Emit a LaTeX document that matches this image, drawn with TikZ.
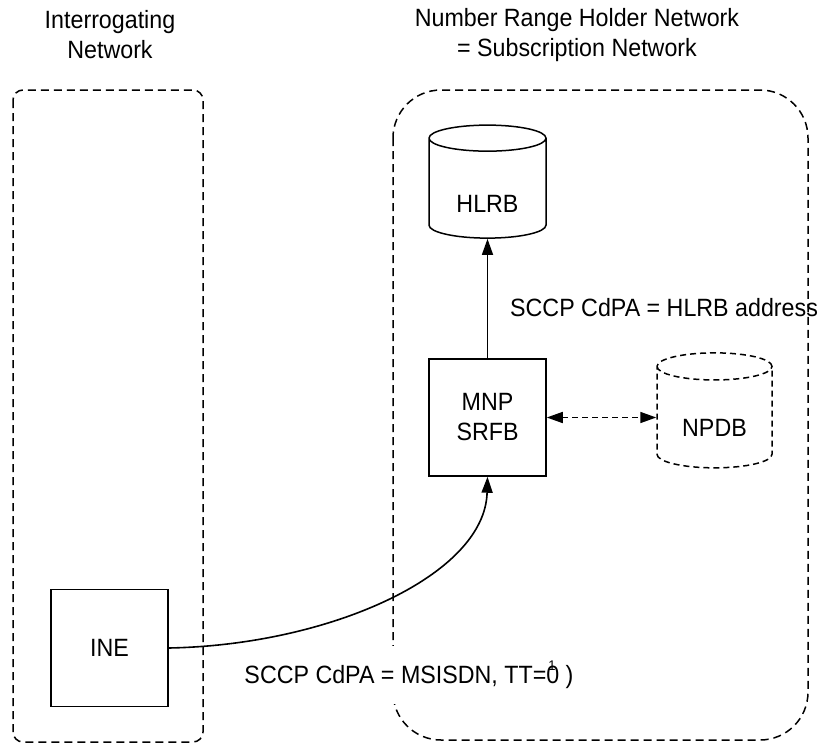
\documentclass[tikz,border=0pt]{standalone}
\usepackage{fontspec}
\setmainfont[FakeStretch=0.93]{Liberation Sans}
\usetikzlibrary{arrows.meta,shapes.geometric}
\begin{document}
\begin{tikzpicture}[x=1pt,y=-1pt,
  every node/.style={font=\fontsize{25}{30}\selectfont},
  netbox/.style={draw, line width=1.5pt, dash pattern=on 8pt off 5pt},
  sqbox/.style={draw, line width=1.5pt, minimum width=117pt, minimum height=117pt, inner sep=0pt, align=center},
  dbshape/.style={draw, line width=1.5pt, cylinder, shape border rotate=90, aspect=0.42, minimum width=117pt, minimum height=113pt, inner sep=0pt},
  conn/.style={line width=1.6pt},
  tip/.style={-{Triangle[length=16pt,width=11pt]}},
  dtip/.style={{Triangle[length=16pt,width=11pt]}-{Triangle[length=16pt,width=11pt]}},
]
\useasboundingbox (0,0) rectangle (822,744);
\fill[white] (0,0) rectangle (822,744);
% titles
\node[align=center] (t1) at (110,35) {Interrogating\\Network};
\node[align=center] (t2) at (577,35) {Number Range Holder Network\\= Subscription Network};
% network areas
\draw[netbox, rounded corners=10pt] (13,90) rectangle (203,742);
\draw[netbox, rounded corners=48pt] (393,90) rectangle (808,740);
% nodes
\node[dbshape] (hlrb) at (487.5,188.5) {\raisebox{-23.5pt}[0pt][0pt]{HLRB}};
\node[sqbox] (mnp) at (487.5,417.5) {MNP\\SRFB};
\node[dbshape, minimum width=115pt, minimum height=115pt, dash pattern=on 6pt off 4pt] (npdb) at (714.5,417.5) {\raisebox{-18.5pt}[0pt][0pt]{NPDB}};
\node[sqbox] (ine) at (109.5,648) {INE};
% labels
\node[anchor=west, inner sep=0pt] (lab1) at (510,308) {SCCP CdPA = HLRB address};
\node[fill=white, minimum height=58pt, inner sep=1pt] (lab2) at (409,675) {SCCP CdPA = MSISDN, TT=\makebox[0pt][l]{\hspace{2pt}\raisebox{13pt}{\fontsize{14}{14}\selectfont 1}}0 )};
% connectors
\draw[conn, tip] (mnp.north) -- (hlrb.south);
\draw[conn, dtip, dash pattern=on 6pt off 4pt] (mnp.east) -- (npdb.west);
\draw[conn, tip] (ine.east) .. controls (330,645) and (485,575) .. (mnp.south);
\end{tikzpicture}
\end{document}
